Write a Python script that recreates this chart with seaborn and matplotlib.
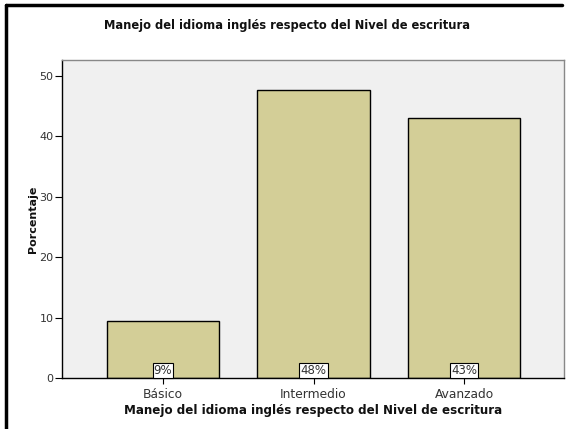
import matplotlib
matplotlib.use("Agg")
import matplotlib.pyplot as plt
import seaborn as sns
import pandas as pd

categories = ["Básico", "Intermedio", "Avanzado"]
values = [9.4, 47.6, 43.0]
labels = ["9%", "48%", "43%"]
title = "Manejo del idioma inglés respecto del Nivel de escritura"

sns.set_style("white")
plt.rcParams['font.family'] = ['DejaVu Sans']

df = pd.DataFrame({"cat": categories, "val": values})

fig = plt.figure(figsize=(5.69, 4.29), dpi=100)
W, H = 569, 429
ax = fig.add_axes([62 / W, 1 - 378 / H, (564 - 62) / W, (378 - 60) / H])
ax.set_facecolor("#f0f0f0")

sns.barplot(data=df, x="cat", y="val", color="#d3ce97", saturation=1,
            edgecolor="black", linewidth=1, width=0.75, ax=ax)

ax.set_xlim(-0.671, 2.664)
ax.set_ylim(0, 52.6)
ax.set_yticks([0, 10, 20, 30, 40, 50])
ax.tick_params(axis="y", length=5, width=0.8, color="black", labelsize=8,
               labelcolor="#333333", pad=1, left=True)
ax.tick_params(axis="x", length=4, width=0.8, color="black", labelsize=8.8,
               labelcolor="#333333", pad=3.5, bottom=True, direction="out")

for s in ["top", "right"]:
    ax.spines[s].set_color("#888888")
    ax.spines[s].set_linewidth(1)
for s in ["left", "bottom"]:
    ax.spines[s].set_color("black")
    ax.spines[s].set_linewidth(1)

for i, lab in enumerate(labels):
    ax.annotate(lab, xy=(i, 0), xytext=(0, 0.9), textcoords="offset points",
                ha="center", va="bottom", fontsize=8.5, color="#333333",
                bbox=dict(boxstyle="square,pad=0.1", fc="white", ec="black", lw=0.8),
                zorder=5)

ax.set_xlabel("Manejo del idioma inglés respecto del Nivel de escritura",
              fontsize=8.6, fontweight="bold", color="#111111")
ax.xaxis.set_label_coords(0.5, -(404 - 378) / 318)
ax.set_ylabel("Porcentaje", fontsize=8, fontweight="bold", color="#111111")
ax.yaxis.set_label_coords(-(62 - 33) / 502, 0.5)
ax.yaxis.label.set_va("center")

fig.text(0.5 * (6 + 569) / W, 1 - 25 / H, title, ha="center", va="center",
         fontsize=8.3, fontweight="bold", color="#111111")

# outer frame (top and left)
fig.add_artist(plt.Line2D([6 / W, 562 / W], [1 - 5 / H, 1 - 5 / H], color="black", lw=2.5,
                          transform=fig.transFigure))
fig.add_artist(plt.Line2D([6 / W, 6 / W], [1 - 5 / H, 0], color="black", lw=2.5,
                          transform=fig.transFigure))

fig.savefig("out.png", dpi=100)
